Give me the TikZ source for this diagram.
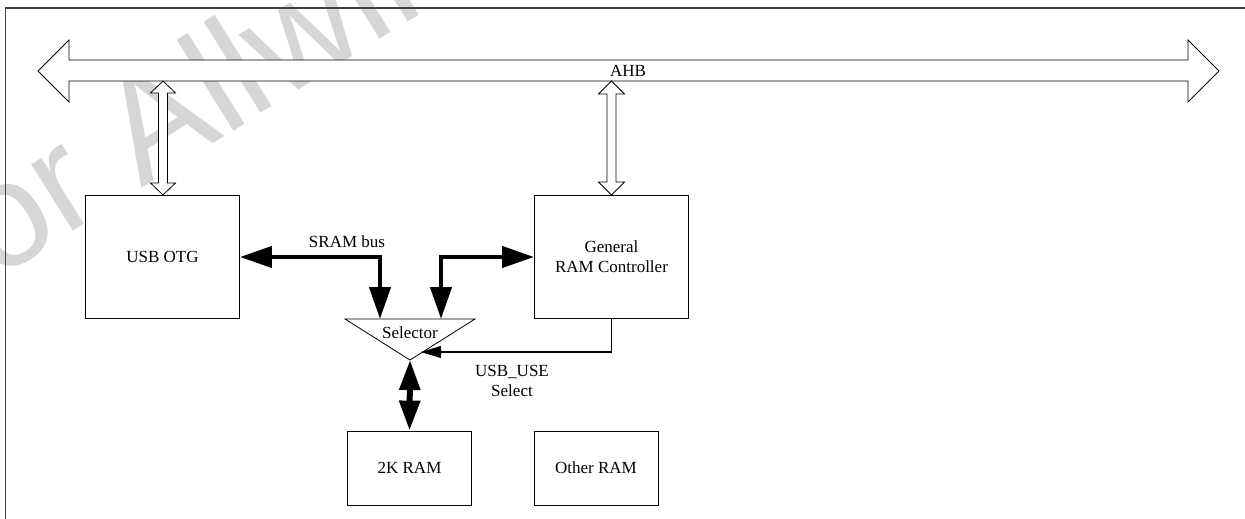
\documentclass[tikz,border=0pt]{standalone}
\usepackage{fontspec}
\setmainfont{Liberation Serif}
\newfontfamily\wmfont{Liberation Sans}
\usetikzlibrary{arrows.meta,calc}
\tikzset{
  box/.style={draw=black, line width=0.9pt, minimum width=154pt, minimum height=123pt, inner sep=0pt, align=center, font=\fontsize{17}{20}\selectfont},
  ram/.style={draw=black, line width=0.9pt, minimum width=124pt, minimum height=74pt, inner sep=0pt, align=center, font=\fontsize{17}{20}\selectfont},
  lbl/.style={inner sep=0pt, align=center, font=\fontsize{17}{20}\selectfont},
  hollow/.style={draw=black, line width=0.8pt, fill=white, line join=miter},
  bus/.style={line width=4.3pt, {Triangle[length=32pt,width=21pt]}-{Triangle[length=32pt,width=21pt]}},
  vbus/.style={line width=6pt, {Triangle[length=30pt,width=20pt]}-{Triangle[length=30pt,width=20pt]}},
  ctl/.style={line width=1.3pt, -{Triangle[length=20pt,width=12pt]}},
  frame/.style={draw=black!75, line width=1.6pt}
}
\begin{document}
\begin{tikzpicture}[x=1pt,y=-1pt]
\useasboundingbox (0,0) rectangle (1245,519);
% watermark
\begin{scope}
\clip (0,0) rectangle (1245,519);
\node[rotate=32, anchor=base west, inner sep=0pt, text=black!16, font=\wmfont\fontsize{148}{148}\selectfont] (wm) at (-40,302) {for Allwinner};
\end{scope}
% frame
\draw[frame] (5.5,519) -- (5.5,8) -- (1245,8);
% AHB bus
\draw[hollow] (38,71) -- (69,40) -- (69,60) -- (1188,60) -- (1188,40) -- (1219,71)
  -- (1188,102) -- (1188,81) -- (69,81) -- (69,102) -- cycle;
\node[lbl] (ahb) at (628,71) {AHB};
% boxes
\node[box] (usb) at (162.5,256.5) {USB OTG};
\node[box] (grc) at (611.5,256.5) {General\\RAM Controller};
\node[ram] (ram2k) at (409.5,468) {2K RAM};
\node[ram] (ramo) at (596,468) {Other RAM};
% selector
\coordinate (selL) at (345,319);
\coordinate (selR) at (475,319);
\coordinate (selB) at (410,360);
\draw[line width=0.8pt, line join=miter] (selL) -- (selR) -- (selB) -- cycle;
\node[lbl] (sel) at (410,333) {Selector};
% AHB <-> USB OTG
\draw[hollow] (163,81) -- (175.5,93) -- (167.5,93) -- (167.5,183) -- (175.5,183) -- (163,195)
  -- (150.5,183) -- (158.5,183) -- (158.5,93) -- (150.5,93) -- cycle;
% AHB <-> General RAM Controller
\draw[hollow] (611.5,81) -- (624.5,94) -- (616,94) -- (616,182) -- (624.5,182) -- (611.5,195)
  -- (598.5,182) -- (607,182) -- (607,94) -- (598.5,94) -- cycle;
% SRAM bus
\draw[bus] (usb.east |- 0,257) -- (380,257) -- (380,319);
\draw[bus] (grc.west |- 0,257) -- (441,257) -- (441,319);
\node[lbl] (srambus) at (347,242) {SRAM bus};
% USB_USE select
\draw[ctl] (grc.south) -- (611.5,352) -- (421,352);
\node[lbl] (usbuse) at (512,381) {USB\_USE\\Select};
% selector <-> 2K RAM
\draw[vbus] (selB) -- (ram2k.north);
\end{tikzpicture}
\end{document}
